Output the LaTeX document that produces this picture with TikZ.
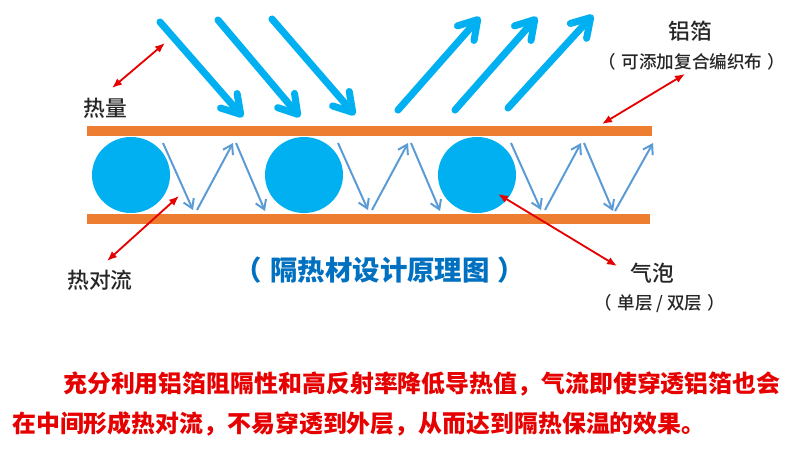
\documentclass[tikz,border=0pt]{standalone}
\usepackage{fontspec}
\newfontfamily\cjk{Noto Sans CJK SC}
\newfontfamily\cjkmid{Noto Sans CJK SC}[UprightFont=* Medium]
\usepackage{tikz}
\usetikzlibrary{arrows.meta,shapes.geometric}
\definecolor{skyblue}{RGB}{0,176,240}
\definecolor{foil}{RGB}{237,125,49}
\definecolor{flowblue}{RGB}{91,155,213}
\definecolor{redline}{RGB}{230,0,0}
\definecolor{titleblue}{RGB}{0,112,192}
\tikzset{
  bubble/.style={ellipse,fill=skyblue,inner sep=0pt,minimum width=1.95cm,minimum height=1.9cm},
  foilbar/.style={rectangle,fill=foil,inner sep=0pt,minimum height=0.23cm},
  ray/.style={skyblue,line width=5pt,line cap=round,-{Straight Barb[length=4.5mm,width=5.5mm,round]}},
  swirl/.style={flowblue,line width=1.4pt,-{Straight Barb[length=2.2mm,width=2.8mm]}},
  pointer/.style={redline,line width=1.3pt,{Latex[length=2.5mm,width=2mm]}-{Latex[length=2.5mm,width=2mm]}},
  tag/.style={font=\cjkmid\fontsize{15.5}{18}\selectfont,text=black!85,inner sep=0pt},
  subtag/.style={font=\cjkmid\fontsize{12.5}{14}\selectfont,text=black!85,inner sep=0pt},
  note/.style={font=\cjk\bfseries\fontsize{17}{20}\selectfont,text=redline,inner sep=0pt,anchor=west},
}
\newcommand{\gap}{\hspace{0.3em}}

\begin{document}
\begin{tikzpicture}[x=0.025cm,y=-0.025cm]
  \useasboundingbox[fill=white] (0,0) rectangle (800,450);
  % foil layers and bubbles
  \node[foilbar,minimum width=14.13cm] (top) at (369.5,131) {};
  \node[foilbar,minimum width=14.08cm] (bot) at (368.5,219) {};
  \node[bubble] (b1) at (131,175) {};
  \node[bubble] (b2) at (304,175) {};
  \node[bubble] (b3) at (477,175) {};
  % heat rays in / out
  \coordinate (in1) at (160,22);  \coordinate (hit1) at (243,117);
  \coordinate (in2) at (218,20);  \coordinate (hit2) at (300,117);
  \coordinate (in3) at (272,19);  \coordinate (hit3) at (355,115);
  \coordinate (out1) at (398,110); \coordinate (away1) at (480,17);
  \coordinate (out2) at (455,110); \coordinate (away2) at (537,17);
  \coordinate (out3) at (508,108); \coordinate (away3) at (593,15);
  \foreach \i in {1,2,3} {
    \draw[ray] (in\i) -- (hit\i);
    \draw[ray] (out\i) -- (away\i);
  }
  % convection between the layers
  \foreach \x in {163,338,511} {
    \draw[swirl] (\x,143) -- (\x+30,210);
    \draw[swirl] (\x+34,210) -- (\x+70,143);
    \draw[swirl] (\x+73,143) -- (\x+102,211);
  }
  \draw[swirl] (615,211) -- (653,143);
  % labels
  \node[tag] (heat) at (105,108) {热量};
  \node[tag] (al) at (690,31) {铝箔};
  \node[subtag] (alnote) at (692,62) {（\gap 可添加复合编织布\gap ）};
  \node[tag] (conv) at (100,280) {热对流};
  \node[tag] (bub) at (652,273) {气泡};
  \node[subtag] (bubnote) at (660,304) {（\gap 单层 / 双层\gap ）};
  \node[font=\cjk\bfseries\fontsize{19.5}{22}\selectfont,text=titleblue] (title) at (380,270)
    {（\gap 隔热材设计原理图\gap ）};
  % pointers
  \coordinate (p1) at (112,88);  \coordinate (q1) at (165,43);
  \coordinate (p2) at (602,124); \coordinate (q2) at (685,74);
  \coordinate (p3) at (107,261); \coordinate (q3) at (179,196);
  \coordinate (p4) at (498,194); \coordinate (q4) at (617,266);
  \foreach \i in {1,...,4} \draw[pointer] (p\i) -- (q\i);
  % caption
  \node[note] (line1) at (63,384) {充分利用铝箔阻隔性和高反射率降低导热值，气流即使穿透铝箔也会};
  \node[note] (line2) at (12,424) {在中间形成热对流，不易穿透到外层，从而达到隔热保温的效果。};
\end{tikzpicture}
\end{document}
